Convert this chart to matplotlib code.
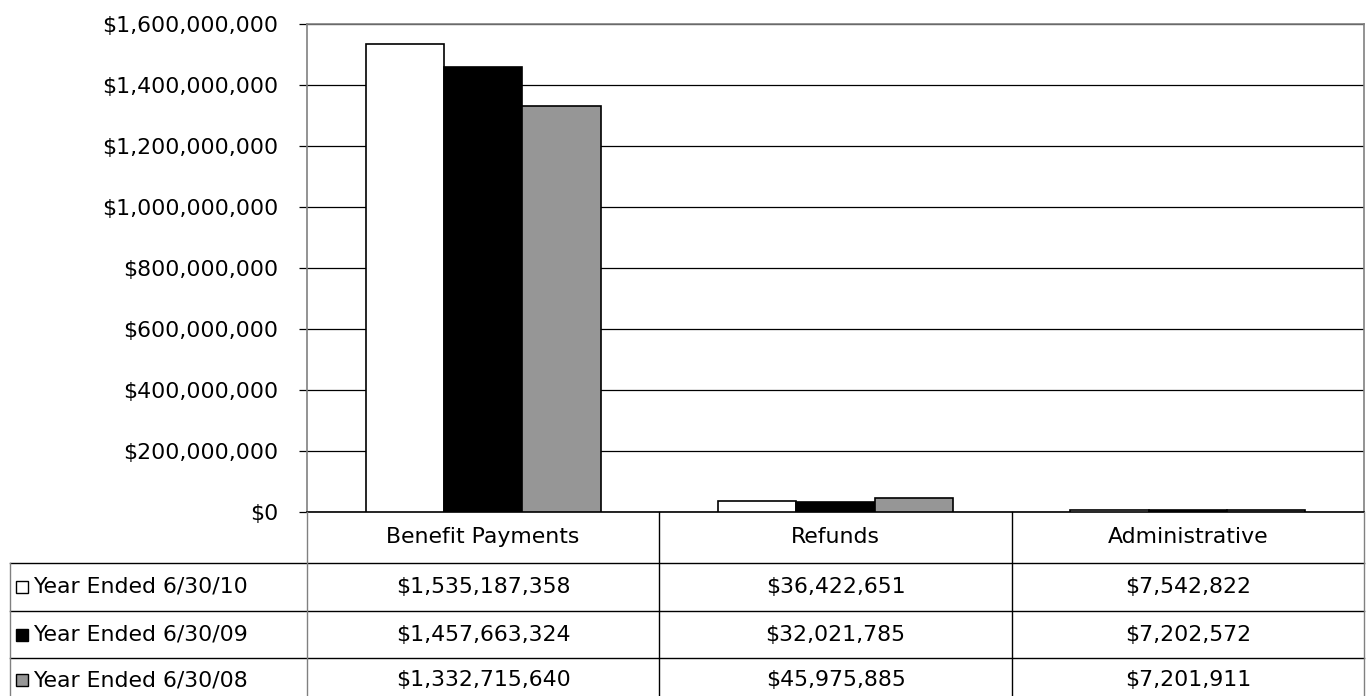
import matplotlib
matplotlib.use("Agg")
import matplotlib.pyplot as plt
from matplotlib.patches import Rectangle
from matplotlib.lines import Line2D
import numpy as np

categories = ["Benefit Payments", "Refunds", "Administrative"]
series_names = ["Year Ended 6/30/10", "Year Ended 6/30/09", "Year Ended 6/30/08"]
fy10 = [1535187358, 36422651, 7542822]
fy09 = [1457663324, 32021785, 7202572]
fy08 = [1332715640, 45975885, 7201911]
series = [fy10, fy09, fy08]
colors = ["#ffffff", "#000000", "#969696"]
yticks = [0, 200000000, 400000000, 600000000, 800000000, 1000000000,
          1200000000, 1400000000, 1600000000]

plt.rcParams['font.family'] = ['DejaVu Sans']
FS = 15.8

W, H = 1366, 696
fig = plt.figure(figsize=(W / 100, H / 100), dpi=100)

def fx(px):
    return px / W

def fy(py):
    return 1 - py / H

ax_l, ax_r, ax_t, ax_b = 307, 1364, 24, 512
ax = fig.add_axes([fx(ax_l), fy(ax_b), fx(ax_r) - fx(ax_l), fy(ax_t) - fy(ax_b)])

n = len(categories)
x = np.arange(n)
bw = 0.667 / 3
for i, (vals, c) in enumerate(zip(series, colors)):
    ax.bar(x + (i - 1) * bw, vals, width=bw, color=c, edgecolor="black",
           linewidth=1.2, zorder=3)

ax.set_xlim(-0.5, n - 0.5)
ax.set_ylim(0, 1600000000)
ax.set_yticks(yticks)
ax.set_yticklabels([f"${v:,}" for v in yticks], fontsize=FS)
ax.yaxis.grid(True, color="black", linewidth=0.9, zorder=0)
ax.set_axisbelow(True)
ax.tick_params(axis='y', length=5.8, width=0.9, color="black", pad=15)
ax.set_xticks([])
for s in ["left", "top", "right"]:
    ax.spines[s].set_color("#808080")
    ax.spines[s].set_linewidth(1.2)
ax.spines["bottom"].set_color("black")
ax.spines["bottom"].set_linewidth(1.2)

# Data table
col_edges = [307, 659, 1012, 1364]
row_lines = [563, 611, 658]
row_centers = [587, 635, 680]
header_center = 537
tab_left = 10
lw = 1.0

def hline(y, x0, x1, color="black"):
    fig.add_artist(Line2D([fx(x0), fx(x1)], [fy(y), fy(y)], color=color, linewidth=lw,
                          transform=fig.transFigure))

def vline(xp, y0, y1, color="black"):
    fig.add_artist(Line2D([fx(xp), fx(xp)], [fy(y0), fy(y1)], color=color, linewidth=lw,
                          transform=fig.transFigure))

for y in row_lines:
    hline(y, tab_left, ax_r)
for i, xp in enumerate(col_edges):
    vline(xp, ax_b, H + 5, color="#808080" if i in (0, len(col_edges) - 1) else "black")
vline(tab_left, row_lines[0], H + 5, color="#808080")

for j, cat in enumerate(categories):
    cx = (col_edges[j] + col_edges[j + 1]) / 2
    fig.text(fx(cx), fy(header_center), cat, ha="center", va="center", fontsize=FS)

for i, (name, vals, c) in enumerate(zip(series_names, series, colors)):
    cy = row_centers[i]
    fig.add_artist(Rectangle((fx(16), fy(cy + 6)), fx(12), fy(0) - fy(12),
                             facecolor=c, edgecolor="black", linewidth=1.0,
                             transform=fig.transFigure))
    fig.text(fx(33), fy(cy), name, ha="left", va="center", fontsize=FS)
    for j, v in enumerate(vals):
        cx = (col_edges[j] + col_edges[j + 1]) / 2
        fig.text(fx(cx), fy(cy), f"${v:,}", ha="center", va="center", fontsize=FS)

fig.savefig("out.png", dpi=100, facecolor="white")
